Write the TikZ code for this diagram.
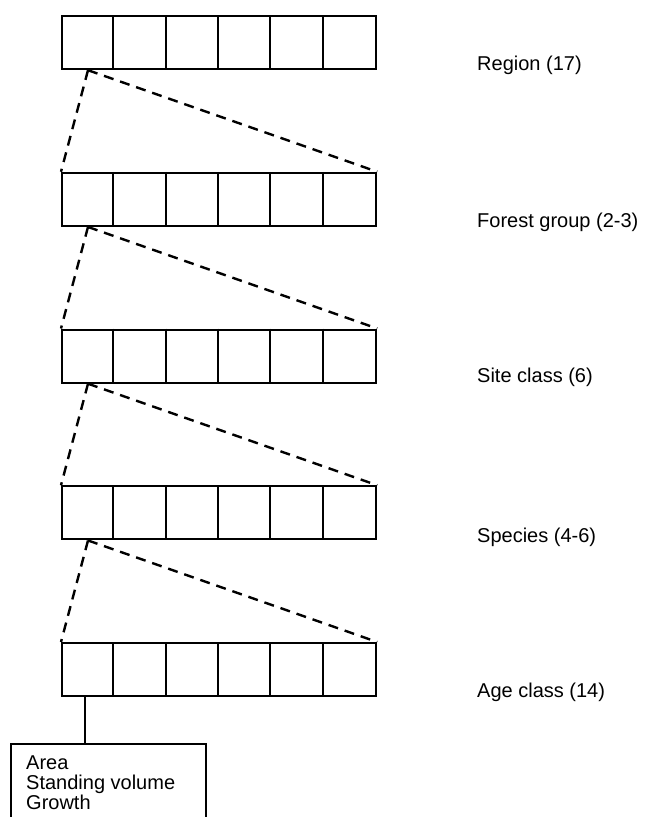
\documentclass[tikz,border=0pt]{standalone}
\usepackage{fontspec}
\setmainfont{Liberation Sans}
\usetikzlibrary{calc}
\begin{document}
\begin{tikzpicture}[x=1pt,y=-1pt,
  rowbox/.style={draw, line width=2.2pt, minimum width=314pt, minimum height=53pt, inner sep=0pt, anchor=north west},
  divider/.style={line width=2.2pt},
  lbl/.style={anchor=west, font=\fontsize{20}{20}\selectfont, inner sep=0pt},
  link/.style={line width=2.4pt, dash pattern=on 10pt off 7pt},
  solidlink/.style={line width=2.2pt}]
\useasboundingbox (0,0) rectangle (647,817);
\clip (0,0) rectangle (647,817);
\foreach \i/\t in {1/15,2/171.75,3/328.5,4/485.25,5/642} {
  \node[rowbox] (r\i) at (61,\t) {};
  \foreach \k in {1,...,5}
    \draw[divider] ($(r\i.north west)+(\k*52.33,0)$) -- ($(r\i.south west)+(\k*52.33,0)$);
}
\node[lbl] (l1) at (477,65) {Region (17)};
\node[lbl] (l2) at (477,222) {Forest group (2-3)};
\node[lbl] (l3) at (477,377) {Site class (6)};
\node[lbl] (l4) at (477,537) {Species (4-6)};
\node[lbl] (l5) at (477,692) {Age class (14)};
\foreach \i/\j in {1/2,2/3,3/4,4/5} {
  \coordinate (a\i) at ($(r\i.south west)+(27,0)$);
  \draw[link] (a\i) -- (r\j.north west);
  \draw[link] (a\i) -- (r\j.north east);
}
\coordinate (b) at ($(r5.south west)+(24,0)$);
\node[draw, line width=2.2pt, anchor=north west, minimum width=195pt, minimum height=110pt, inner sep=0pt] (box) at (10,743) {};
\draw[solidlink] (b) -- (b |- box.north);
\node[anchor=north west, align=left, font=\fontsize{20}{20}\selectfont, inner sep=0pt] (info) at ($(box.north west)+(16,13)$) {Area\\Standing volume\\Growth};
\end{tikzpicture}
\end{document}
